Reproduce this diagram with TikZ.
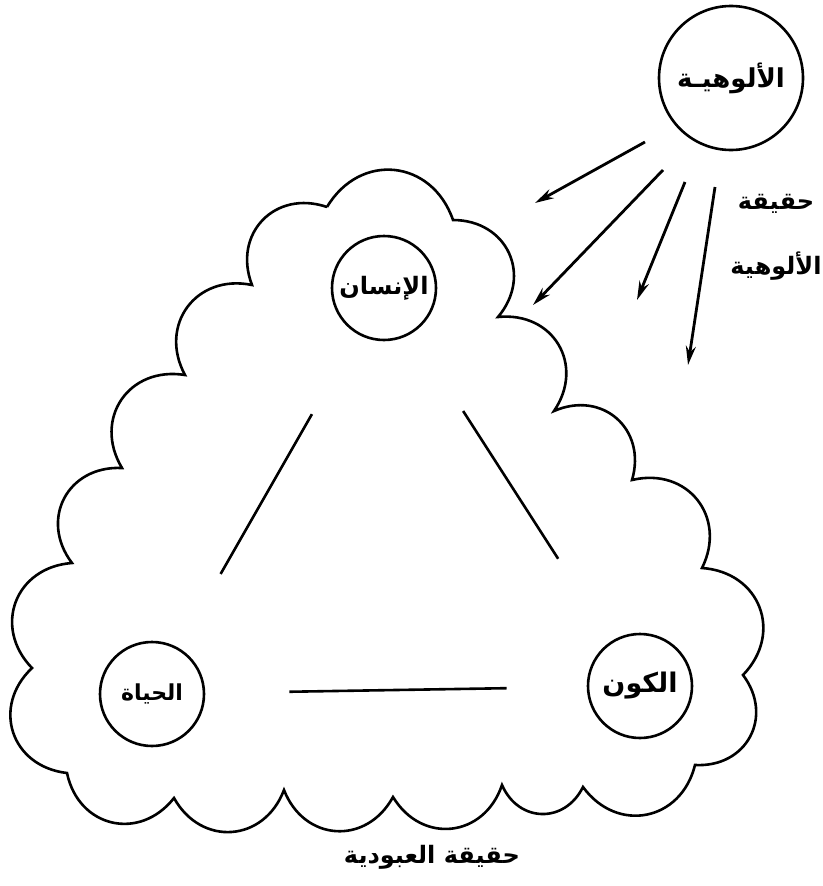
\documentclass[tikz,border=0pt]{standalone}
\usepackage{fontspec}
\newfontfamily\arabicfont[Script=Arabic]{DejaVu Sans}
\TeXXeTstate=1
\usetikzlibrary{arrows.meta}

\begin{document}
\begin{tikzpicture}[
    x=1pt, y=-1pt,
    every node/.style={font=\arabicfont\bfseries\fontsize{24}{29}\selectfont},
    realm/.style={draw, circle, line width=2.6pt, minimum size=104pt, inner sep=0pt},
    link/.style={draw, line width=2.6pt},
    ray/.style={draw, line width=2.8pt, -{Stealth[length=19pt, width=10pt]}},
    cloud/.style={draw, line width=2.6pt, line join=miter},
    lobe/.style={bend left=65, looseness=1.3}
  ]
  \useasboundingbox (0,0) rectangle (822,886);

  % realms inside the cloud
  \node[realm] (insan) at (384,288) {\beginR الإنسان\endR};
  \node[realm, font=\arabicfont\bfseries\fontsize{22}{26}\selectfont] (hayat) at (152,694) {\beginR الحياة\endR};
  \node[realm, font=\arabicfont\bfseries\fontsize{27}{32}\selectfont] (kawn) at (640,686) {\beginR الكون\endR};
  \node[realm, minimum size=144pt, font=\arabicfont\bfseries\fontsize{26}{31}\selectfont] (ulooh) at (731,78) {\beginR الألوهيـة\endR};

  % triangle
  \draw[link, shorten <=92pt, shorten >=85pt] (insan) -- (hayat);
  \draw[link, shorten <=93pt, shorten >=98pt] (insan) -- (kawn);
  \draw[link, shorten <=84pt, shorten >=80pt] (hayat) -- (kawn);

  % cloud of cusps
  \foreach \x/\y [count=\i] in {327/207, 453/220, 498/317, 554/411, 632/480,
      702/568, 743/675, 695/765, 583/787, 502/785, 393/797, 284/790,
      174/798, 67/773, 32/668, 72/563, 122/468, 185/375, 252/285}
    \coordinate (c\i) at (\x,\y);
  \draw[cloud] (c1) to[lobe] (c2) to[lobe] (c3) to[lobe] (c4) to[lobe] (c5)
    to[lobe] (c6) to[lobe] (c7) to[lobe] (c8) to[lobe] (c9) to[lobe] (c10)
    to[lobe] (c11) to[lobe] (c12) to[lobe] (c13) to[lobe] (c14) to[lobe] (c15)
    to[lobe] (c16) to[lobe] (c17) to[lobe] (c18) to[lobe] (c19) to[lobe] (c1);

  % rays
  \coordinate (ray1a) at (645,142);  \coordinate (ray1b) at (535,203);
  \coordinate (ray2a) at (663,170);  \coordinate (ray2b) at (533,305);
  \coordinate (ray3a) at (685,182);  \coordinate (ray3b) at (637,300);
  \coordinate (ray4a) at (715,187);  \coordinate (ray4b) at (688,365);
  \draw[ray] (ray1a) -- (ray1b);
  \draw[ray] (ray2a) -- (ray2b);
  \draw[ray] (ray3a) -- (ray3b);
  \draw[ray] (ray4a) -- (ray4b);

  % labels
  \node[align=center] (ulooh label) at (776,237)
    {\beginR حقيقة\endR\\[36pt]\beginR الألوهية\endR};
  \node (abd label) at (432,857) {\beginR حقيقة العبودية\endR};
\end{tikzpicture}
\end{document}
